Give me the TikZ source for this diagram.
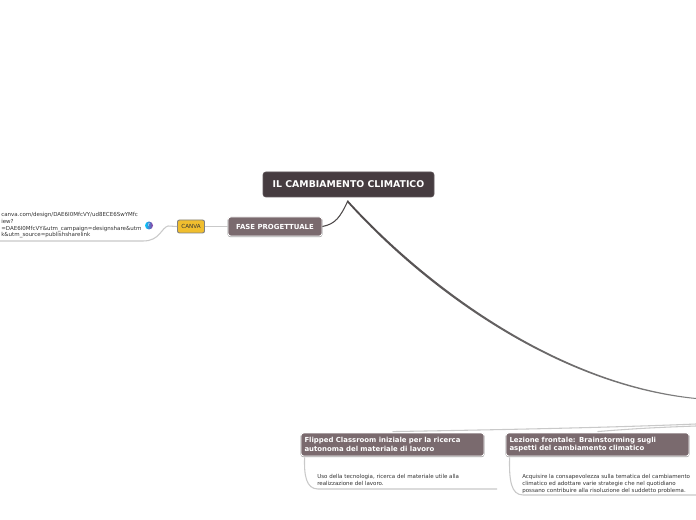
\documentclass[tikz,border=0pt]{standalone}
\usepackage{fontspec}
\setmainfont{DejaVu Sans}
\definecolor{rootc}{HTML}{463C40}
\definecolor{subc}{HTML}{7A6A6E}
\definecolor{linec}{HTML}{C9C9C9}
\definecolor{dark}{HTML}{4F4A4B}
\definecolor{gold}{HTML}{F0BE2E}
\tikzset{
 rootbox/.style={rounded corners=2pt,fill=rootc,text=white,font=\fontsize{7}{8}\selectfont\bfseries,minimum width=128.25pt,minimum height=18.75pt,inner sep=0pt,draw=rootc!85!white,line width=.4pt},
 subbox/.style={rounded corners=2pt,fill=subc,text=white,draw=white,line width=.6pt,font=\fontsize{5.2}{6.6}\selectfont\bfseries,inner sep=0pt,preaction={draw=gray!70,line width=.8pt,transform canvas={yshift=-.5pt}}},
 canvabox/.style={rounded corners=1.5pt,fill=gold,draw=gray,line width=.7pt,font=\fontsize{4.2}{5}\selectfont,minimum width=20.25pt,minimum height=9.75pt,inner sep=0pt,text=black!80},
 leaf/.style={font=\fontsize{4.13}{4.95}\selectfont,text=black!80,align=left,anchor=north west,inner sep=0pt},
 conn/.style={draw=linec,line width=.8pt},
 trunk/.style={draw=dark,line width=.8pt}
}
\begin{document}
\begin{tikzpicture}[x=.75pt,y=-.75pt]
\useasboundingbox (0,0) rectangle (696,520);
\fill[white] (0,0) rectangle (696,520);
\node[rootbox] (root) at (348.5,184.5) {IL CAMBIAMENTO CLIMATICO};
\coordinate (tip) at (348,200.5);
\node[subbox,minimum width=70.5pt,minimum height=14.25pt] (fase) at (275,226.5) {FASE PROGETTUALE};
\node[canvabox] (canva) at (191,226.5) {CANVA};
\node[leaf] (url) at (1,212.5) {canva.com/design/DAE6I0MfcVY/ud8ECE6SwYMfc\\iew?\\=DAE6I0MfcVY\&utm\_campaign=designshare\&utm\\k\&utm\_source=publishsharelink};
\shade[left color=cyan!80!blue,right color=violet!80!white] (149,225.5) circle (3pt);
\node[font=\fontsize{3.6}{4}\selectfont,text=white,inner sep=0pt] (icon) at (149,225.5) {r};
\coordinate (urlend) at (0,241);
\coordinate (urlmid) at (143,241);
\coordinate (rightend) at (696,398);
\coordinate (rightlow) at (696,399);
\coordinate (tiplow) at (347,202);
\node[subbox,minimum width=137.25pt,minimum height=17.25pt,align=left,text width=132pt] (flip) at (392.5,444.5) {Flipped Classroom iniziale per la ricerca\\autonoma del materiale di lavoro};
\node[subbox,minimum width=137.25pt,minimum height=17.25pt,align=left,text width=132pt] (lez) at (597.5,444.5) {Lezione frontale: Brainstorming sugli\\aspetti del cambiamento climatico};
\node[leaf] (ltext) at (317,474.5) {Uso della tecnologia, ricerca del materiale utile alla\\realizzazione del lavoro.};
\node[leaf] (rtext) at (522,474.5) {Acquisire la consapevolezza sulla tematica del cambiamento\\climatico ed adottare varie strategie che nel quotidiano\\possano contribuire alla risoluzione del suddetto problema.};
\coordinate (lend) at (497,489);
\coordinate (rend) at (696,495);
\coordinate (topr) at (696,424);
\coordinate (topm) at (696,426);
% connectors
\draw[trunk] (tip) .. controls (340,218) and (335,224) .. (fase.east);
\shade[left color=dark,right color=gray] (tip) .. controls (430,290) and (560,384) .. (rightend) -- (rightlow) .. controls (560,386) and (428,292) .. (tiplow) -- cycle;
\draw[conn] (fase.west) -- (canva.east);
\draw[conn] (canva.west) -- (168,226) .. controls (161,228) and (160,241) .. (urlmid) -- (urlend);
\draw[conn] (flip.north) ++(0,-1) .. controls (480,430) and (600,428) .. (topr);
\draw[conn] (lez.north) ++(0,-1) .. controls (640,428) and (670,427) .. (topm);
\draw[conn] (flip.south west) ++(4,1) .. controls (304,475) and (306,489) .. (318,489) -- (lend);
\draw[conn] (lez.south west) ++(4,1) .. controls (509,480) and (511,495) .. (523,495) -- (rend);
\end{tikzpicture}
\end{document}
